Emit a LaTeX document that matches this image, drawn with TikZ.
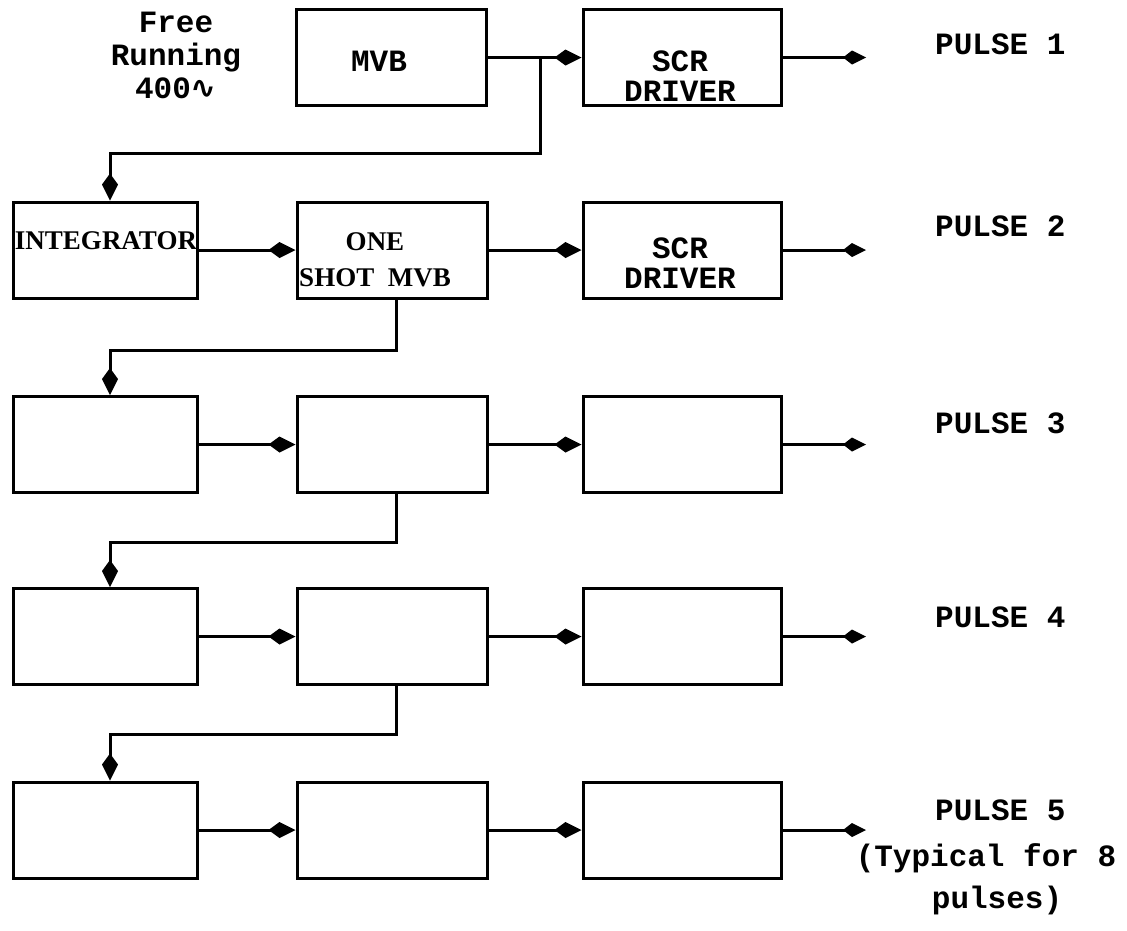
\documentclass[tikz,border=0pt]{standalone}
\usepackage{fontspec}
\usetikzlibrary{arrows.meta}
\newfontfamily\tmono{Liberation Mono}
\newfontfamily\tserif{Liberation Serif}
\newfontfamily\tsym{DejaVu Sans}
\tikzset{
  blk/.style={draw, line width=3pt, inner sep=0pt, minimum height=96pt},
  colA/.style={blk, minimum width=184pt},
  colB/.style={blk, minimum width=190pt},
  colC/.style={blk, minimum width=198pt},
  conn/.style={line width=3pt, -{Kite[length=27pt,width=16pt,inset=11pt]}},
  outarr/.style={line width=3pt, -{Kite[length=23pt,width=14pt,inset=9pt]}},
  wire/.style={line width=3pt},
  mtext/.style={inner sep=0pt, align=center, font=\tmono\bfseries\fontsize{31}{31}\selectfont},
  stext/.style={inner sep=0pt, align=center, font=\tserif\bfseries\fontsize{27}{36}\selectfont},
  plabel/.style={inner sep=0pt, anchor=west, font=\tmono\bfseries\fontsize{31}{31}\selectfont}
}
\begin{document}
\begin{tikzpicture}[x=1pt,y=-1pt]
\path[use as bounding box] (0,0) rectangle (1127,930);

% boxes
\node[colB] (mvb)  at (391.5,57.5) {};
\node[colC] (scr1) at (682,57.5) {};

\node[colA] (int)  at (105,250) {};
\node[colB] (osm)  at (392,250) {};
\node[colC] (scr2) at (682,250) {};

\node[colA] (a3) at (105,444.5) {};
\node[colB] (b3) at (392,444.5) {};
\node[colC] (c3) at (682,444.5) {};

\node[colA] (a4) at (105,636.5) {};
\node[colB] (b4) at (392,636.5) {};
\node[colC] (c4) at (682,636.5) {};

\node[colA] (a5) at (105,830) {};
\node[colB] (b5) at (392,830) {};
\node[colC] (c5) at (682,830) {};

% texts
\node[mtext, font=\tmono\bfseries\fontsize{31}{33}\selectfont] (free) at (176,55) {Free\\Running\\400{\tsym ∿}};
\node[mtext] (mvbt) at (379,61) {MVB};
\node[mtext, font=\tmono\bfseries\fontsize{31}{30}\selectfont] (scr1t) at (680,76) {SCR\\DRIVER};
\node[mtext, font=\tmono\bfseries\fontsize{31}{30}\selectfont] (scr2t) at (680,263) {SCR\\DRIVER};
\node[stext] (intt) at (106,241) {INTEGRATOR};
\node[stext] (osmt) at (375,260) {ONE\\SHOT\ \ MVB};

% outputs
\coordinate (o1) at (866,57.5);
\coordinate (o2) at (866,250);
\coordinate (o3) at (866,444.5);
\coordinate (o4) at (866,636.5);
\coordinate (o5) at (866,830);
\draw[outarr] (scr1) -- (o1);
\draw[outarr] (scr2) -- (o2);
\draw[outarr] (c3) -- (o3);
\draw[outarr] (c4) -- (o4);
\draw[outarr] (c5) -- (o5);

\node[plabel] (p1) at (935,44) {PULSE 1};
\node[plabel] (p2) at (935,226) {PULSE 2};
\node[plabel] (p3) at (935,423) {PULSE 3};
\node[plabel] (p4) at (935,617) {PULSE 4};
\node[plabel] (p5) at (935,810) {PULSE 5};
\node[mtext] (typ) at (986,858) {(Typical for 8};
\node[mtext] (pul) at (997,900) {pulses)};

% horizontal chain
\draw[conn] (mvb) -- (scr1);
\draw[conn] (int) -- (osm);
\draw[conn] (osm) -- (scr2);
\draw[conn] (a3) -- (b3);
\draw[conn] (b3) -- (c3);
\draw[conn] (a4) -- (b4);
\draw[conn] (b4) -- (c4);
\draw[conn] (a5) -- (b5);
\draw[conn] (b5) -- (c5);

% feedback / cascade
\coordinate (j1) at (540,57.5);
\draw[wire] ([yshift=-3pt]j1) -- (j1);
\draw[conn] (j1) -- ++(0,96) -| ([xshift=5pt]int.north);
\draw[conn] ([xshift=4pt]osm.south) -- ++(0,51) -| ([xshift=5pt]a3.north);
\draw[conn] ([xshift=4pt]b3.south) -- ++(0,48) -| ([xshift=5pt]a4.north);
\draw[conn] ([xshift=4pt]b4.south) -- ++(0,48) -| ([xshift=5pt]a5.north);
\end{tikzpicture}
\end{document}
